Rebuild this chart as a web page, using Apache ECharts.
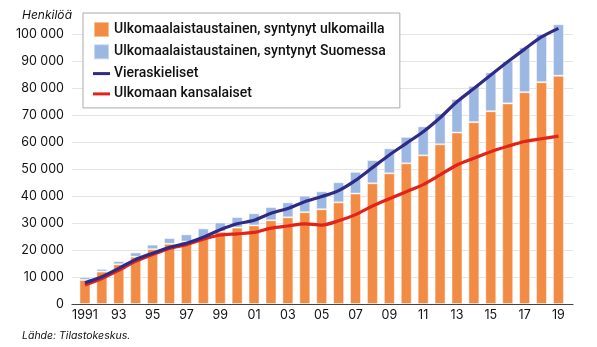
<!DOCTYPE html>
<html>
<head>
<meta charset="utf-8">
<script src="https://cdn.jsdelivr.net/npm/echarts@6/dist/echarts.min.js"></script>
<style>
html,body{margin:0;padding:0;background:#fff;}
#chart{width:597px;height:347px;}
</style>
</head>
<body>
<div id="chart"></div>
<script>
const years = ['1991','1992','1993','1994','1995','1996','1997','1998','1999','2000','2001','2002','2003','2004','2005','2006','2007','2008','2009','2010','2011','2012','2013','2014','2015','2016','2017','2018','2019'];
const bornAbroad = [8900,12000,14700,17500,20300,22300,23100,24500,26800,28300,29100,31000,32100,34000,35100,37650,40900,44700,48400,52100,55050,59150,63500,67350,71400,74300,78450,82150,84550];
const bornFinland = [1000,1000,1200,1600,1700,2100,2700,3500,3400,3900,4500,4900,5550,6100,6650,7450,8050,8600,9250,9800,10750,11450,12400,13450,14400,15700,16650,17850,19050];
const foreignLang = [7900,10100,13200,16500,18800,21000,22500,24700,27500,29700,31000,33600,35400,37900,39800,42000,45800,50500,55200,59500,63800,69000,74900,79800,84800,89700,94400,98900,102100];
const foreignCitizens = [7000,9400,12500,15800,18300,20600,22000,24000,25550,26000,26500,28100,28900,29700,29250,30800,33100,36300,39000,41600,44200,47800,51500,54000,56400,58400,60200,61200,62200];
const names = ['Ulkomaalaistaustainen, syntynyt ulkomailla','Ulkomaalaistaustainen, syntynyt Suomessa','Vieraskieliset','Ulkomaan kansalaiset'];

const chart = echarts.init(document.getElementById('chart'), null, {renderer:'canvas'});
const lineIcon = 'path://M0,0 M0,6.5 L17,6.5 L17,9.5 L0,9.5 Z M17,15';
const sqIcon = 'path://M0,0 M1,0 L16,0 L16,15 L1,15 Z M17,15';
chart.setOption({
  animation:false,
  backgroundColor:'#fff',
  textStyle:{fontFamily:'Inter'},
  grid:[
    {left:72,right:24,top:34,bottom:43},
    {left:76.5,right:30.1,top:34,bottom:43}
  ],
  legend:{
    orient:'vertical', left:83, top:13,
    backgroundColor:'#fff', borderColor:'#aaa', borderWidth:1,
    padding:[8,14,7,9], itemGap:5.3, itemWidth:17, itemHeight:15,
    textStyle:{fontFamily:'Roboto', fontSize:14, fontWeight:500, color:'#111', padding:[0,0,0,-1]},
    data:[
      {name:names[0], icon:sqIcon},
      {name:names[1], icon:sqIcon},
      {name:names[2], icon:lineIcon},
      {name:names[3], icon:lineIcon}
    ]
  },
  xAxis:[
    {gridIndex:0, type:'value', min:0, max:1,
      axisLine:{show:true, onZero:false, lineStyle:{color:'#444', width:1.2}},
      axisTick:{show:false}, splitLine:{show:false}, axisLabel:{show:false}},
    {gridIndex:1, type:'category', data:years, boundaryGap:true,
      axisLine:{show:false}, axisTick:{show:false}, splitLine:{show:false},
      axisLabel:{interval:1, margin:5, fontSize:12.5, color:'#111', fontFamily:'Inter',
        formatter:v => v==='1991' ? '1991' : v.slice(2)}}
  ],
  yAxis:[
    {gridIndex:0, type:'value', min:0, max:100000, interval:10000,
      axisLine:{show:false}, axisTick:{show:false},
      splitLine:{lineStyle:{color:'#e4e4e4', width:1}},
      axisLabel:{margin:8, fontSize:12.5, color:'#111', fontFamily:'Inter',
        formatter:v => v===0 ? '0' : (v/1000)+' 000'}},
    {gridIndex:1, type:'value', min:0, max:100000, interval:10000, show:false,
      splitLine:{show:false}}
  ],
  graphic:[
    {type:'text', left:22, top:9, style:{text:'Henkilöä', font:'italic 12px Inter', fill:'#111'}},
    {type:'text', left:22, top:330, style:{text:'Lähde: Tilastokeskus.', font:'italic 10.5px Inter', fill:'#111'}}
  ],
  series:[
    {name:names[0], type:'bar', xAxisIndex:1, yAxisIndex:1, stack:'a', barWidth:11, clip:false, data:bornAbroad,
      itemStyle:{color:'#F28C45', borderColor:'rgba(255,255,255,0.45)', borderWidth:1}},
    {name:names[1], type:'bar', xAxisIndex:1, yAxisIndex:1, stack:'a', barWidth:11, clip:false, data:bornFinland,
      itemStyle:{color:'#9CB7E2', borderColor:'rgba(255,255,255,0.45)', borderWidth:1}},
    {name:names[3], type:'line', xAxisIndex:1, yAxisIndex:1, smooth:0.3, symbol:'none', clip:false, data:foreignCitizens, z:3,
      lineStyle:{color:'#E2231A', width:3.2}, itemStyle:{color:'#E2231A'}},
    {name:names[2], type:'line', xAxisIndex:1, yAxisIndex:1, smooth:0.3, symbol:'none', clip:false, data:foreignLang, z:4,
      lineStyle:{color:'#2E2A86', width:3.2}, itemStyle:{color:'#2E2A86'}}
  ]
});
</script>
</body>
</html>
